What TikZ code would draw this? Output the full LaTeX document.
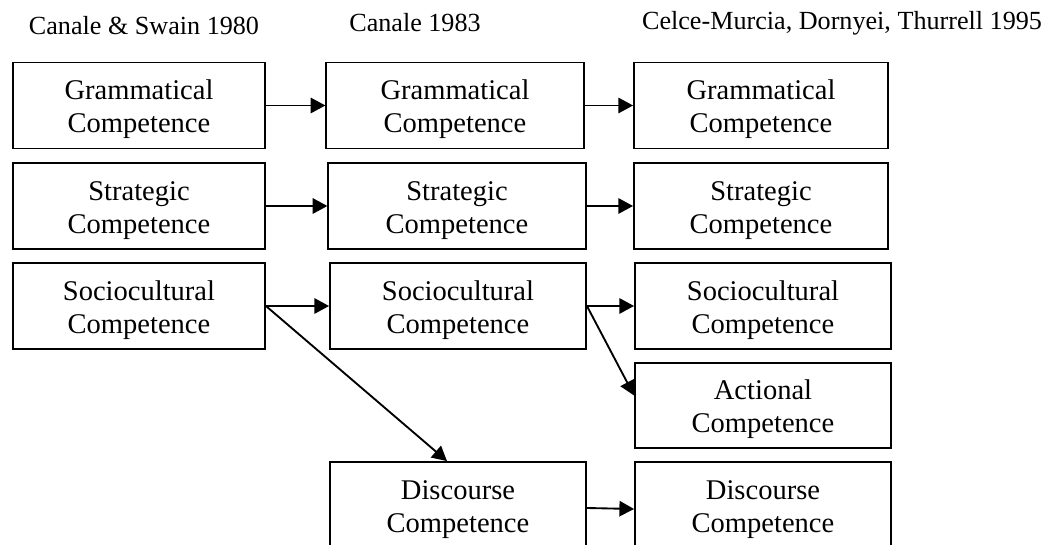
\documentclass[tikz,border=0pt]{standalone}
\usepackage{fontspec}
\setmainfont{Liberation Serif}
\usepackage{tikz}
\usetikzlibrary{arrows.meta,positioning,calc}
\newcommand\lift{\rule{0pt}{21pt}}
\tikzset{
  comp/.style={draw=black,line width=1.4pt,minimum width=189pt,minimum height=64.5pt,align=center,inner sep=0pt,font=\fontsize{21.4}{24.8}\selectfont},
  wide/.style={comp,minimum width=193pt},
  head/.style={anchor=base,font=\fontsize{19.6}{22}\selectfont},
  arr/.style={-{Triangle[length=11pt,width=11.5pt]},draw=black,line width=1.4pt}
}

\begin{document}
\begin{tikzpicture}[x=0.75pt,y=-0.75pt]
\clip (0,0) rectangle (1058,545);
% column headings
\node[head] (h1) at (144,35) {Canale \& Swain 1980};
\node[head] (h2) at (415,32) {Canale 1983};
\node[head] (h3) at (842,30) {Celce-Murcia, Dornyei, Thurrell 1995};
% Canale & Swain 1980
\node[comp] (g1) at (139,105.5) {\lift Grammatical\\Competence};
\node[comp] (s1) at (139,206) {\lift Strategic\\Competence};
\node[comp] (c1) at (139,306) {\lift Sociocultural\\Competence};
% Canale 1983
\node[wide] (g2) at (455,105.5) {\lift Grammatical\\Competence};
\node[wide] (s2) at (457,206) {\lift Strategic\\Competence};
\node[wide,minimum width=192pt] (c2) at (458,306) {\lift Sociocultural\\Competence};
\node[wide,minimum width=192pt] (d2) at (458,505) {\lift Discourse\\Competence};
% Celce-Murcia et al. 1995
\node[wide,minimum width=190.5pt] (g3) at (761,105.5) {\lift Grammatical\\Competence};
\node[wide,minimum width=190.5pt] (s3) at (761,206) {\lift Strategic\\Competence};
\node[wide,minimum width=192pt] (c3) at (763,306) {\lift Sociocultural\\Competence};
\node[wide,minimum width=192pt,minimum height=63.75pt] (a3) at (763,405.5) {\lift Actional\\Competence};
\node[wide,minimum width=192pt] (d3) at (763,505) {\lift Discourse\\Competence};
% links
\draw[arr] (g1) -- (g2);
\draw[arr] (g2) -- (g3);
\draw[arr] (s1) -- (s2);
\draw[arr] (s2) -- (s3);
\draw[arr] (c1.east) -- (c2.west);
\draw[arr] (c1.east) -- ($(d2.north)+(-11,0)$);
\draw[arr] (c2.east) -- (c3.west);
\draw[arr] (c2.east) -- ($(a3.west)+(0,-10)$);
\draw[arr] ($(d2.east)+(0,3)$) -- ($(d3.west)+(0,4)$);
\end{tikzpicture}
\end{document}
